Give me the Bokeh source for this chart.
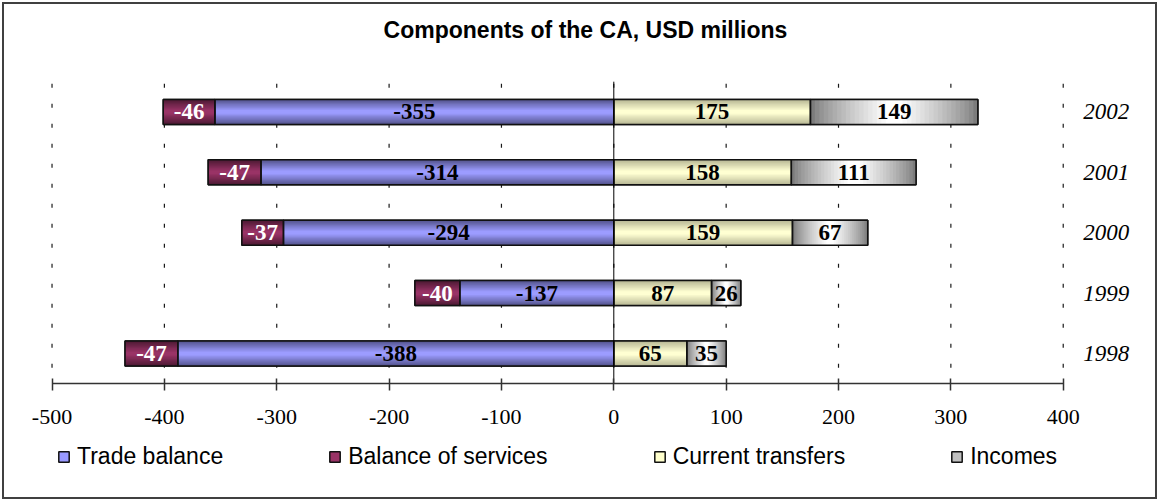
from bokeh.plotting import figure
from bokeh.models import (Range1d, FixedTicker, Label, LinearAxis,
                          Legend, LegendItem)
from bokeh.core.properties import value
from bokeh.embed import file_html
from bokeh.resources import INLINE

# ---------------- data ----------------
years = ["1998", "1999", "2000", "2001", "2002"]
trade_balance = [-388, -137, -294, -314, -355]
balance_of_services = [-47, -40, -37, -47, -46]
current_transfers = [65, 87, 159, 158, 175]
incomes = [35, 26, 67, 111, 149]
series_names = ["Trade balance", "Balance of services", "Current transfers", "Incomes"]
x_ticks = [-500, -400, -300, -200, -100, 0, 100, 200, 300, 400]
x_tick_labels = ["-500", "-400", "-300", "-200", "-100", "0", "100", "200", "300", "400"]
title_text = "Components of the CA, USD millions"

# ---------------- style ----------------
SANS = "Liberation Sans"
SERIF = "Liberation Serif"
BAR_H = 0.414
W, H = 1159, 501

ypos = list(range(len(years)))          # category slots, 1998 at the bottom
y_lo, y_hi = ypos[0] - 0.5, ypos[-1] + 0.5
x_lo, x_hi = x_ticks[0], x_ticks[-1]


def mix(c1, c2, t):
    a = [int(c1[i:i + 2], 16) for i in (1, 3, 5)]
    b = [int(c2[i:i + 2], 16) for i in (1, 3, 5)]
    return "#%02x%02x%02x" % tuple(round(a[k] + (b[k] - a[k]) * t) for k in range(3))


p = figure(width=W, height=H, output_backend="svg", toolbar_location=None,
           x_range=Range1d(-545.86, 485.69), y_range=Range1d(-2.450, 5.844),
           x_axis_location=None, y_axis_location=None, min_border=0)
p.styles = {"box-shadow": "inset 0 0 0 2px #ffffff, inset 0 0 0 4px #404040",
            "background-color": "white"}
p.outline_line_color = None
p.background_fill_color = None
p.border_fill_color = None
p.grid.visible = False

# dashed vertical grid lines (plot area only)
p.segment(x0=x_ticks, y0=[y_hi] * len(x_ticks), x1=x_ticks, y1=[y_lo] * len(x_ticks),
          line_color="#1a1a1a", line_width=1.2, line_dash="4 16", line_dash_offset=-2)

# x axis, drawn at the bottom of the category band
ax = LinearAxis(fixed_location=y_lo, bounds=(x_lo, x_hi))
ax.ticker = FixedTicker(ticks=x_ticks)
ax.major_label_overrides = {t: l for t, l in zip(x_ticks, x_tick_labels)}
ax.axis_line_color = "#333333"
ax.axis_line_width = 1.5
ax.major_tick_line_color = "#333333"
ax.major_tick_line_width = 1.5
ax.major_tick_in = 5
ax.major_tick_out = 7
ax.minor_tick_line_color = None
ax.major_label_text_font = SERIF
ax.major_label_text_font_size = "22px"
ax.major_label_text_color = "black"
ax.major_label_standoff = 19
p.add_layout(ax, "below")

# year axis, to the right of the plot area
ay = LinearAxis(fixed_location=x_hi, bounds=(y_lo, y_hi))
ay.ticker = FixedTicker(ticks=ypos)
ay.major_label_overrides = {i: y for i, y in zip(ypos, years)}
ay.axis_line_color = None
ay.major_tick_line_color = None
ay.minor_tick_line_color = None
ay.major_tick_in = 0
ay.major_tick_out = 0
ay.major_label_standoff = 20
ay.major_label_text_font = SERIF
ay.major_label_text_font_style = "italic"
ay.major_label_text_font_size = "23px"
ay.major_label_text_color = "black"
p.add_layout(ay, "right")

# ---------------- segments ----------------
tb_left = list(trade_balance)
tb_right = [0] * len(years)
bs_left = [t + b for t, b in zip(trade_balance, balance_of_services)]
bs_right = list(trade_balance)
ct_left = [0] * len(years)
ct_right = list(current_transfers)
inc_left = list(current_transfers)
inc_right = [c + i for c, i in zip(current_transfers, incomes)]

segments = [(tb_left, tb_right), (bs_left, bs_right), (ct_left, ct_right), (inc_left, inc_right)]
swatch_colors = ["#9999ff", "#993366", "#ffffcc", "#c0c0c0"]

# base bars (also used by the legend)
base = []
for (l, r), col in zip(segments, swatch_colors):
    base.append(p.hbar(y=ypos, left=l, right=r, height=BAR_H, fill_color=col,
                       line_color="#111111", line_width=1.5))


def vgrad(left, right, edge, center, n=10):
    for i in range(n):
        t = i / (n - 1)
        f = 1 - 0.85 * t
        p.hbar(y=ypos, left=left, right=right, height=BAR_H * f,
               fill_color=mix(edge, center, t), line_color=None)


def hgrad(left, right, edge, center, n=18):
    for i in range(n):
        t = i / (n - 1)
        f = 1 - 0.9 * t
        l = [a + (b - a) * (1 - f) / 2 for a, b in zip(left, right)]
        r = [b - (b - a) * (1 - f) / 2 for a, b in zip(left, right)]
        p.hbar(y=ypos, left=l, right=r, height=BAR_H,
               fill_color=mix(edge, center, t ** 0.8), line_color=None)


vgrad(tb_left, tb_right, "#55558f", "#9c9cff")
vgrad(bs_left, bs_right, "#4f1a35", "#993366")
vgrad(ct_left, ct_right, "#b9b996", "#ffffd2")
hgrad(inc_left, inc_right, "#7c7c7c", "#ffffff")

# outlines on top
for l, r in segments:
    p.hbar(y=ypos, left=l, right=r, height=BAR_H, fill_alpha=0,
           line_color="#111111", line_width=1.5)

# zero line
p.segment(x0=[0], y0=[y_hi], x1=[0], y1=[y_lo], line_color="black", line_width=1)


# value labels
def labels(left, right, vals, color):
    p.text(x=[(a + b) / 2 for a, b in zip(left, right)], y=ypos,
           text=[str(v) for v in vals], text_align="center", text_baseline="middle",
           text_font=value(SERIF), text_font_style="bold", text_font_size="23px",
           text_color=color)


labels(tb_left, tb_right, trade_balance, "black")
labels(bs_left, bs_right, balance_of_services, "white")
labels(ct_left, ct_right, current_transfers, "black")
labels(inc_left, inc_right, incomes, "black")

# legend
items = [LegendItem(label=n, renderers=[r]) for n, r in zip(series_names, base)]
leg = Legend(items=items, location=(57, 31), orientation="horizontal",
             padding=0, margin=0, spacing=105,
             glyph_width=13, glyph_height=13, label_standoff=7,
             label_text_font=SANS, label_text_font_size="23px",
             label_text_color="black",
             background_fill_alpha=0, border_line_color=None)
p.add_layout(leg)

# title
p.add_layout(Label(x=585, y=H - 29, x_units="screen", y_units="screen", text=title_text,
                   text_align="center", text_baseline="middle", text_font=SANS,
                   text_font_style="bold", text_font_size="23px", text_color="black"))

open("out.html", "w").write(file_html(p, INLINE))
